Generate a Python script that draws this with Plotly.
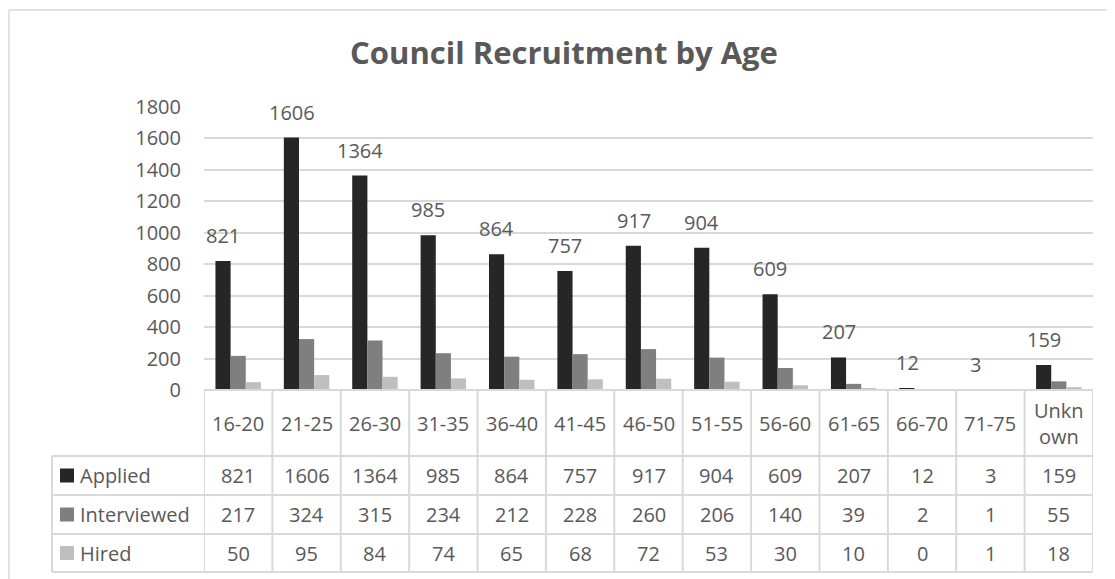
import plotly.graph_objects as go

categories = ["16-20", "21-25", "26-30", "31-35", "36-40", "41-45", "46-50",
              "51-55", "56-60", "61-65", "66-70", "71-75", "Unknown"]
header_labels = ["16-20", "21-25", "26-30", "31-35", "36-40", "41-45", "46-50",
                 "51-55", "56-60", "61-65", "66-70", "71-75", "Unkn<br>own"]
applied = [821, 1606, 1364, 985, 864, 757, 917, 904, 609, 207, 12, 3, 159]
interviewed = [217, 324, 315, 234, 212, 228, 260, 206, 140, 39, 2, 1, 55]
hired = [50, 95, 84, 74, 65, 68, 72, 53, 30, 10, 0, 1, 18]
series_names = ["Applied", "Interviewed", "Hired"]
series_values = [applied, interviewed, hired]
y_ticks = [0, 200, 400, 600, 800, 1000, 1200, 1400, 1600, 1800]

colors = ["#262626", "#7f7f7f", "#bfbfbf"]
TXT = "#595959"
GRID = "#d9d9d9"
FONT = "Open Sans"
FS = 20

OFF = 8  # page body margin
W, H = 1115 - OFF, 579 - OFF
ML = 204 - OFF
MT = 107 - OFF
BOTTOM = 390 - OFF
RIGHT = 1093 - OFF
MB = H - BOTTOM
MR = W - RIGHT
PW = RIGHT - ML
PH = BOTTOM - MT


def py(p):
    return (BOTTOM - (p - OFF)) / PH


def px(p):
    return ((p - OFF) - ML) / PW


fig = go.Figure()
for name, vals, c in zip(series_names, series_values, colors):
    fig.add_trace(go.Bar(x=categories, y=vals, name=name, marker_color=c,
                         marker_line_width=0))

shapes = []
annotations = []

# data labels on Applied
for cat, v in zip(categories, applied):
    annotations.append(dict(x=cat, y=v, xref="x", yref="y", text=str(v),
                            showarrow=False, xanchor="center", yanchor="bottom",
                            xshift=-15, yshift=10,
                            font=dict(family=FONT, size=FS, color=TXT)))

# table geometry (reference pixel coordinates)
row_lines = [456, 495, 534, 572]
row_centers = [(456 + 495) / 2, (495 + 534) / 2, (534 + 572) / 2]
header_center = (390 + 456) / 2
line_style = dict(color=GRID, width=2)
n = len(categories)

shapes.append(dict(type="line", xref="x", yref="paper", x0=-0.5, x1=n - 0.5,
                   y0=py(390), y1=py(390), line=line_style, layer="above"))
for i in range(n + 1):
    shapes.append(dict(type="line", xref="x", yref="paper", x0=i - 0.5, x1=i - 0.5,
                       y0=py(390), y1=py(572), line=line_style))
shapes.append(dict(type="line", xref="paper", yref="paper", x0=px(52), x1=px(52),
                   y0=py(456), y1=py(572), line=line_style))
for yl in row_lines:
    shapes.append(dict(type="line", xref="paper", yref="paper", x0=px(52), x1=1,
                       y0=py(yl), y1=py(yl), line=line_style))

# outer chart border
shapes.append(dict(type="line", xref="paper", yref="paper", x0=px(9), x1=px(1125),
                   y0=py(10), y1=py(10), line=dict(color=GRID, width=1.5)))
shapes.append(dict(type="line", xref="paper", yref="paper", x0=px(9), x1=px(9),
                   y0=py(10), y1=py(590), line=dict(color=GRID, width=1.5)))

# header labels
for cat, lab in zip(categories, header_labels):
    annotations.append(dict(x=cat, y=py(header_center), xref="x", yref="paper",
                            text=lab, showarrow=False, xanchor="center",
                            yanchor="middle",
                            font=dict(family=FONT, size=FS, color=TXT)))

# rows
for r, (name, vals, c) in enumerate(zip(series_names, series_values, colors)):
    yc = row_centers[r]
    shapes.append(dict(type="rect", xref="paper", yref="paper",
                       x0=px(60), x1=px(74), y0=py(yc - 7), y1=py(yc + 7),
                       fillcolor=c, line_width=0))
    annotations.append(dict(x=px(78), y=py(yc), xref="paper", yref="paper",
                            text=name, showarrow=False, xanchor="left",
                            yanchor="middle",
                            font=dict(family=FONT, size=FS, color=TXT)))
    for cat, v in zip(categories, vals):
        annotations.append(dict(x=cat, y=py(yc), xref="x", yref="paper",
                                text=str(v), showarrow=False, xanchor="center",
                                yanchor="middle",
                                font=dict(family=FONT, size=FS, color=TXT)))

fig.update_layout(
    width=W, height=H,
    margin=dict(l=ML, r=MR, t=MT, b=MB, pad=0),
    paper_bgcolor="white", plot_bgcolor="white",
    barmode="group", bargap=0.335, bargroupgap=0,
    showlegend=False,
    title=dict(text="<b>Council Recruitment by Age</b>",
               x=(564 - OFF) / W, xanchor="center",
               y=1 - (53 - OFF) / H, yanchor="middle",
               xref="container", yref="container",
               font=dict(family=FONT, size=31, color=TXT)),
    xaxis=dict(type="category", categoryorder="array", categoryarray=categories,
               showticklabels=False, showgrid=False, zeroline=False, showline=False,
               ticks="", range=[-0.5, n - 0.5]),
    yaxis=dict(range=[0, 1800], tickvals=y_ticks, ticks="", showline=False,
               zeroline=False, gridcolor=GRID, gridwidth=1.5,
               tickfont=dict(family=FONT, size=FS, color=TXT),
               ticklabelstandoff=22),
    shapes=shapes,
    annotations=annotations,
)

fig.write_html("out.html")
